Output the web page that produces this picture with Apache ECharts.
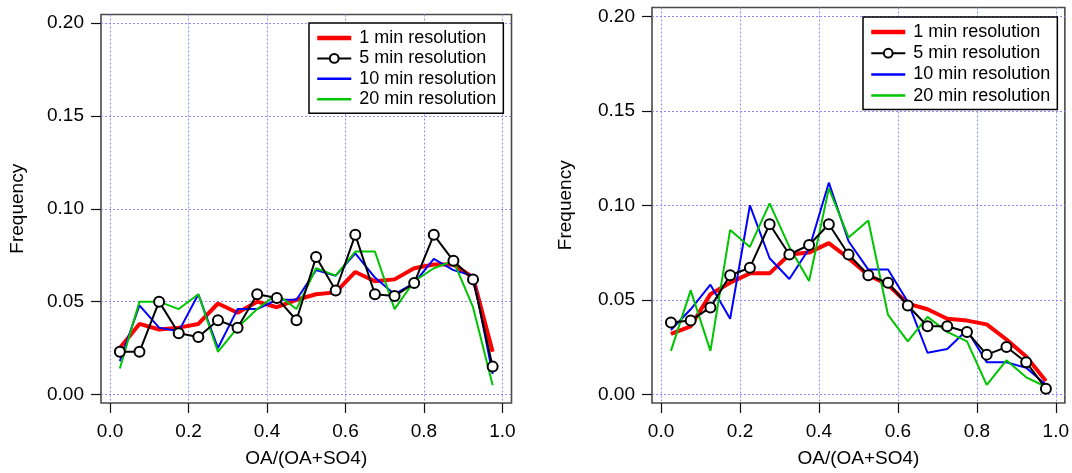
<!DOCTYPE html>
<html>
<head>
<meta charset="utf-8">
<title>OA/(OA+SO4) frequency distributions</title>
<script src="https://cdn.jsdelivr.net/npm/echarts@6/dist/echarts.min.js"></script>
<style>
  html, body { margin: 0; padding: 0; background: #fff; }
  #chart { width: 1072px; height: 473px; }
</style>
</head>
<body>
<div id="chart"></div>
<script>
// Bin centres of the OA/(OA+SO4) histogram (20 bins of width 0.05)
const binCenters = [0.025, 0.075, 0.125, 0.175, 0.225, 0.275, 0.325, 0.375, 0.425, 0.475,
                    0.525, 0.575, 0.625, 0.675, 0.725, 0.775, 0.825, 0.875, 0.925, 0.975];

const seriesNames = ['1 min resolution', '5 min resolution', '10 min resolution', '20 min resolution'];

// Left panel frequencies
const leftOneMin = [0.025, 0.038, 0.035, 0.036, 0.038, 0.049, 0.044, 0.050, 0.047, 0.051,
                    0.054, 0.055, 0.066, 0.061, 0.062, 0.068, 0.070, 0.070, 0.063, 0.023];
const leftFiveMin = [0.023, 0.023, 0.050, 0.033, 0.031, 0.040, 0.036, 0.054, 0.052, 0.040,
                     0.074, 0.056, 0.086, 0.054, 0.053, 0.060, 0.086, 0.072, 0.062, 0.015];
const leftTenMin = [0.018, 0.048, 0.036, 0.034, 0.054, 0.025, 0.046, 0.046, 0.051, 0.051,
                    0.067, 0.064, 0.076, 0.063, 0.054, 0.060, 0.073, 0.067, 0.064, 0.011];
const leftTwentyMin = [0.014, 0.050, 0.050, 0.046, 0.054, 0.023, 0.036, 0.046, 0.054, 0.046,
                       0.068, 0.064, 0.077, 0.077, 0.046, 0.061, 0.068, 0.072, 0.047, 0.005];

// Right panel frequencies
const rightOneMin = [0.032, 0.036, 0.053, 0.059, 0.064, 0.064, 0.074, 0.075, 0.080, 0.072,
                     0.063, 0.058, 0.048, 0.045, 0.040, 0.039, 0.037, 0.029, 0.020, 0.007];
const rightFiveMin = [0.038, 0.039, 0.046, 0.063, 0.067, 0.090, 0.074, 0.079, 0.090, 0.074,
                      0.063, 0.059, 0.047, 0.036, 0.036, 0.033, 0.021, 0.025, 0.017, 0.003];
const rightTenMin = [0.034, 0.045, 0.058, 0.040, 0.100, 0.072, 0.061, 0.077, 0.112, 0.081,
                     0.066, 0.066, 0.049, 0.022, 0.024, 0.034, 0.017, 0.017, 0.014, 0.005];
const rightTwentyMin = [0.023, 0.055, 0.023, 0.087, 0.078, 0.101, 0.078, 0.060, 0.109, 0.083,
                        0.092, 0.042, 0.028, 0.041, 0.033, 0.028, 0.005, 0.018, 0.009, 0.004];

// Tick values and labels
const xTicks = [0, 0.2, 0.4, 0.6, 0.8, 1.0];
const yTicks = [0, 0.05, 0.10, 0.15, 0.20];

const FONT = '"Liberation Sans", Arial, Helvetica, sans-serif';
const pairs = vals => binCenters.map((x, i) => [x, vals[i]]);

const styles = [
  { color: '#ff0000', width: 4, symbol: 'none', z: 2 },
  { color: '#000000', width: 2, symbol: 'emptyCircle', z: 5 },
  { color: '#0000ff', width: 2, symbol: 'none', z: 3 },
  { color: '#00c400', width: 2, symbol: 'none', z: 4 }
];

function makeSeries(panel, valueLists) {
  return valueLists.map((vals, k) => {
    const s = styles[k];
    return {
      name: seriesNames[k],
      type: 'line',
      xAxisIndex: panel,
      yAxisIndex: panel,
      data: pairs(vals),
      symbol: s.symbol,
      symbolSize: 10,
      showSymbol: s.symbol !== 'none',
      z: s.z,
      color: s.color,
      lineStyle: { color: s.color, width: s.width },
      itemStyle: { color: s.color, borderColor: s.color, borderWidth: 2 },
      emphasis: { disabled: true },
      animation: false
    };
  });
}

function xAxisFor(panel) {
  return {
    type: 'value',
    gridIndex: panel,
    min: -0.023,
    max: 1.023,
    name: 'OA/(OA+SO4)',
    nameLocation: 'middle',
    nameGap: 46,
    nameTextStyle: { fontFamily: FONT, fontSize: 19, color: '#000' },
    axisLine: { show: false, onZero: false },
    axisTick: { show: true, inside: false, length: 10, customValues: xTicks,
                lineStyle: { color: '#111', width: 1.2 } },
    axisLabel: { show: true, margin: 19, customValues: xTicks,
                 fontFamily: FONT, fontSize: 19, color: '#000',
                 formatter: v => v.toFixed(1) },
    splitLine: { show: true, lineStyle: { color: '#8c8cff', width: 1, type: [2, 2] } }
  };
}

function yAxisFor(panel, gap) {
  return {
    type: 'value',
    gridIndex: panel,
    min: -0.0046,
    max: 0.2047,
    name: 'Frequency',
    nameLocation: 'middle',
    nameGap: gap,
    nameTextStyle: { fontFamily: FONT, fontSize: 19, color: '#000' },
    axisLine: { show: false, onZero: false },
    axisTick: { show: true, inside: false, length: 10, customValues: yTicks,
                lineStyle: { color: '#111', width: 1.2 } },
    axisLabel: { show: true, margin: 17, customValues: yTicks,
                 fontFamily: FONT, fontSize: 19, color: '#000',
                 formatter: v => v.toFixed(2) },
    splitLine: { show: true, lineStyle: { color: '#8c8cff', width: 1, type: [2, 2] } }
  };
}

// Legend entries: plain lines for the 1/10/20 min traces, line + circle for 5 min
function legendFor(left, top, gap) {
  return {
    left: left,
    top: top,
    orient: 'vertical',
    data: seriesNames.map((n, k) => k === 1
      ? { name: n, lineStyle: { width: 2, color: '#000' } }
      : { name: n, itemStyle: { opacity: 0 }, lineStyle: { width: styles[k].width + 0.5, color: styles[k].color } }),
    itemWidth: 34,
    itemHeight: 11,
    itemGap: gap,
    padding: [6, 7, 5, 6],
    backgroundColor: '#ffffff',
    borderColor: '#000000',
    borderWidth: 1.5,
    borderRadius: 0,
    selectedMode: false,
    textStyle: { fontFamily: FONT, fontSize: 18, color: '#000', padding: [0, 0, 0, 3] }
  };
}

const chart = echarts.init(document.getElementById('chart'), null, { renderer: 'canvas' });

chart.setOption({
  animation: false,
  backgroundColor: '#ffffff',
  grid: [
    { left: 101, top: 14.5, width: 410.5, height: 389.5, show: true,
      borderColor: '#4a4a4a', borderWidth: 1.6, backgroundColor: 'transparent' },
    { left: 652, top: 7.5, width: 417, height: 397.5, show: true,
      borderColor: '#4a4a4a', borderWidth: 1.6, backgroundColor: 'transparent' }
  ],
  xAxis: [xAxisFor(0), xAxisFor(1)],
  yAxis: [yAxisFor(0, 74), yAxisFor(1, 77)],
  legend: [legendFor(309, 23, 2.4), legendFor(863, 17, 3.2)],
  series: [
    ...makeSeries(0, [leftOneMin, leftFiveMin, leftTenMin, leftTwentyMin]),
    ...makeSeries(1, [rightOneMin, rightFiveMin, rightTenMin, rightTwentyMin])
  ]
});
</script>
</body>
</html>
